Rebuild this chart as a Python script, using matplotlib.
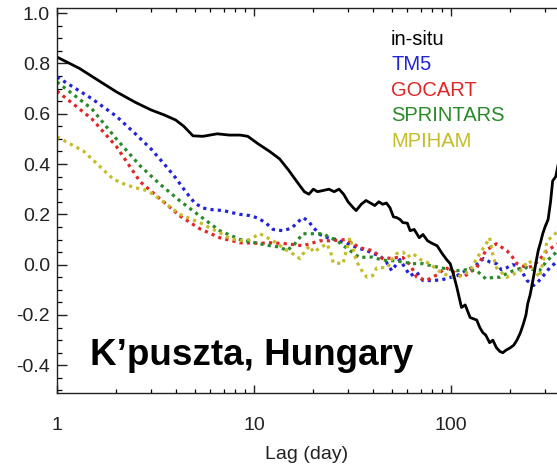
import matplotlib
matplotlib.use("Agg")
import matplotlib.pyplot as plt
from matplotlib.ticker import LogLocator, MultipleLocator, FixedLocator, FixedFormatter

plt.rcParams['font.family'] = ['Liberation Sans', 'DejaVu Sans']

# autocorrelation vs lag, K'puszta site
insitu_lag = [1, 1.3, 1.6, 2.0, 2.5, 3.0, 3.5, 4.0, 4.4, 4.9, 5.5, 6.5, 7.5, 8.5, 9.3,
              10.5, 12, 13.5, 15, 16.5, 18, 19, 20, 21, 22.5, 24, 25.5, 27, 28.5, 30,
              32, 33, 35, 37, 39, 41, 43, 45, 47, 49, 51, 53, 55, 57, 60, 62, 65, 69,
              72, 76, 80, 85, 90, 95, 99, 103, 107, 113, 118, 125, 135, 140, 145, 150,
              157, 163, 170, 177, 183, 190, 200, 208, 216, 225, 233, 240, 245, 252,
              262, 270, 277, 285, 292, 300, 311, 320, 328, 340, 350]
insitu_r = [0.825, 0.78, 0.735, 0.687, 0.645, 0.615, 0.595, 0.575, 0.55, 0.512, 0.51,
            0.52, 0.515, 0.515, 0.51, 0.48, 0.45, 0.42, 0.375, 0.33, 0.29, 0.28, 0.30,
            0.29, 0.295, 0.30, 0.29, 0.30, 0.28, 0.25, 0.225, 0.215, 0.24, 0.255, 0.245,
            0.235, 0.25, 0.24, 0.245, 0.226, 0.19, 0.187, 0.18, 0.167, 0.165, 0.135,
            0.14, 0.107, 0.12, 0.095, 0.085, 0.075, 0.045, 0.02, 0.004, -0.04, -0.09,
            -0.17, -0.16, -0.21, -0.22, -0.25, -0.27, -0.28, -0.31, -0.30, -0.33,
            -0.345, -0.35, -0.34, -0.33, -0.32, -0.30, -0.27, -0.235, -0.2, -0.155,
            -0.12, -0.05, 0.01, 0.056, 0.09, 0.123, 0.15, 0.18, 0.25, 0.333, 0.35, 0.40]

tm5_lag = [1, 1.5, 2, 2.5, 3, 3.5, 4, 4.5, 5, 5.5, 6.2, 7, 7.8, 8.5, 9.5, 10.5, 11.5,
           12.5, 14, 15.5, 17, 17.8, 19, 20, 21.6, 24, 26.4, 28, 30.7, 34, 37.4, 40,
           43.6, 47, 50, 55, 62, 67, 72, 81, 90, 100, 107, 115, 125, 135, 146, 158,
           170, 180, 192, 205, 216, 230, 243, 262, 275, 290, 317, 350]
tm5_r = [0.746, 0.66, 0.59, 0.52, 0.46, 0.40, 0.345, 0.29, 0.245, 0.225, 0.218, 0.215,
         0.206, 0.20, 0.195, 0.185, 0.165, 0.14, 0.135, 0.145, 0.175, 0.187, 0.17,
         0.148, 0.12, 0.105, 0.10, 0.09, 0.08, 0.065, 0.056, 0.045, 0.035, 0.01,
         -0.024, 0.02, -0.044, -0.03, -0.063, -0.063, -0.06, -0.05, -0.044, -0.03,
         -0.016, 0.0, 0.024, 0.01, 0.004, -0.02, -0.012, 0.0, -0.004, -0.03, -0.063,
         -0.083, -0.07, -0.05, -0.012, 0.016]

gocart_lag = [1, 1.5, 2, 2.64, 3.33, 4.2, 5.3, 6.7, 8.5, 10.7, 12.1, 14.7, 17.7, 21.6,
              24.3, 29.5, 34.4, 40, 45, 53, 57, 62, 67, 75, 85, 94, 104, 115, 125,
              135, 142, 150, 160, 170, 180, 192, 205, 216, 230, 243, 262, 281, 307, 350]
gocart_r = [0.69, 0.58, 0.47, 0.33, 0.262, 0.194, 0.143, 0.107, 0.087, 0.085, 0.087,
            0.083, 0.075, 0.095, 0.095, 0.10, 0.067, 0.056, 0.024, 0.028, 0.028, 0.0,
            -0.05, -0.063, -0.04, -0.012, -0.03, -0.05, -0.03, -0.012, 0.02, 0.056,
            0.07, 0.083, 0.07, 0.056, 0.03, 0.004, -0.005, -0.012, -0.005, 0.02,
            0.056, 0.083]

sprintars_lag = [1, 1.5, 2, 2.64, 3.33, 4.2, 5.3, 6.7, 8.5, 10.7, 12.1, 13.5, 14.7, 16,
                 17.7, 19.9, 22.4, 24, 26.4, 28.5, 30.7, 34.4, 37, 40, 44, 47.5, 52,
                 57, 64, 72, 80, 88, 100, 107, 120, 135, 150, 165, 177, 192, 207, 225,
                 243, 262, 281, 307, 350]
sprintars_r = [0.726, 0.62, 0.50, 0.393, 0.32, 0.254, 0.194, 0.135, 0.10, 0.083, 0.075,
               0.07, 0.056, 0.08, 0.123, 0.123, 0.123, 0.11, 0.095, 0.075, 0.056, 0.028,
               0.03, 0.03, 0.02, 0.016, 0.016, 0.01, 0.004, 0.004, -0.005, -0.012,
               -0.02, -0.024, -0.02, -0.024, -0.056, -0.05, -0.05, -0.035, -0.024,
               -0.015, -0.012, -0.02, -0.024, 0.016, 0.056]

mpiham_lag = [1, 1.36, 1.6, 1.93, 2.2, 2.5, 2.73, 3.0, 3.33, 4.2, 5.3, 6.7, 7.5, 8.5,
              9.5, 10.7, 11.5, 12.5, 14.7, 16, 17.1, 18, 19.2, 20, 21, 23.4, 24.5,
              25.2, 28.3, 29.5, 30.7, 32, 33, 35, 37.4, 40, 42, 47.5, 50, 53, 57, 60,
              64, 70, 78, 85, 91, 99, 107, 115, 125, 132, 140, 150, 157, 163, 170, 180,
              192, 205, 225, 238, 250, 265, 281, 295, 307, 325, 350]
mpiham_r = [0.508, 0.452, 0.40, 0.34, 0.32, 0.305, 0.30, 0.285, 0.26, 0.20, 0.167,
            0.127, 0.105, 0.095, 0.10, 0.123, 0.11, 0.095, 0.056, 0.04, 0.024, 0.05,
            0.075, 0.05, 0.06, 0.083, 0.05, 0.008, 0.004, 0.06, 0.107, 0.06, 0.016,
            -0.02, -0.05, -0.044, -0.012, -0.012, 0.02, 0.044, 0.05, 0.03, 0.044, 0.02,
            0.004, -0.02, -0.036, -0.045, -0.05, -0.04, -0.024, 0.01, 0.044, 0.08,
            0.107, 0.04, -0.012, -0.03, -0.05, -0.04, -0.024, 0.0, 0.016, -0.02, -0.05,
            0.02, 0.095, 0.11, 0.135]

model_names = ['TM5', 'GOCART', 'SPRINTARS', 'MPIHAM']
model_colors = ['#2323d8', '#e02626', '#2a8a2a', '#c4bc2a']
x_ticks = [1, 10, 100]
y_ticks = [-0.4, -0.2, 0.0, 0.2, 0.4, 0.6, 0.8, 1.0]

fig = plt.figure(figsize=(5.57, 4.67), dpi=100)
ax = fig.add_axes([57 / 557, 74 / 467, 500 / 557, 385 / 467])

models = [(tm5_lag, tm5_r), (gocart_lag, gocart_r),
          (sprintars_lag, sprintars_r), (mpiham_lag, mpiham_r)]
for (lag, r), c in zip(models, model_colors):
    ax.plot(lag, r, color=c, lw=2.3, linestyle=(0, (1, 1.3)))
ax.plot(insitu_lag, insitu_r, color='black', lw=2.0)

ax.set_xscale('log')
ax.set_xlim(1, 345)
ax.set_ylim(-0.51, 1.02)

ax.xaxis.set_major_locator(FixedLocator(x_ticks))
ax.xaxis.set_major_formatter(FixedFormatter([str(t) for t in x_ticks]))
ax.xaxis.set_minor_locator(LogLocator(base=10, subs=range(2, 10)))
ax.xaxis.set_minor_formatter(FixedFormatter([]))
ax.yaxis.set_major_locator(FixedLocator(y_ticks))
ax.yaxis.set_major_formatter(FixedFormatter(['%.1f' % t for t in y_ticks]))
ax.yaxis.set_minor_locator(MultipleLocator(0.05))

ax.tick_params(axis='x', which='major', direction='in', length=6, width=1,
               top=True, labelsize=14, pad=17, colors='#222222')
ax.tick_params(axis='x', which='minor', direction='in', length=3, width=0.9, top=True)
ax.tick_params(axis='y', which='major', direction='in', length=7, width=1,
               right=False, labelsize=14, pad=5, colors='#222222')
ax.tick_params(axis='y', which='minor', direction='in', length=3.6, width=0.9, right=False)

ax.spines['right'].set_visible(False)
for s in ['left', 'bottom', 'top']:
    ax.spines[s].set_linewidth(1.0)
    ax.spines[s].set_color('#222222')

ax.set_xlabel('Lag (day)', fontsize=14, labelpad=9, color='#222222')

# coloured text legend
ax.text(0.668, 0.917, 'in-situ', transform=ax.transAxes, fontsize=14.5,
        color='black', va='center')
for i, (name, c) in enumerate(zip(model_names, model_colors)):
    ax.text(0.668, 0.852 - 0.066 * i, name, transform=ax.transAxes, fontsize=14.5,
            color=c, va='center')

ax.text(0.066, 0.073, 'K\u2019puszta, Hungary', transform=ax.transAxes,
        fontsize=26.5, fontweight='bold', va='baseline')

fig.savefig('out.png', dpi=100)
